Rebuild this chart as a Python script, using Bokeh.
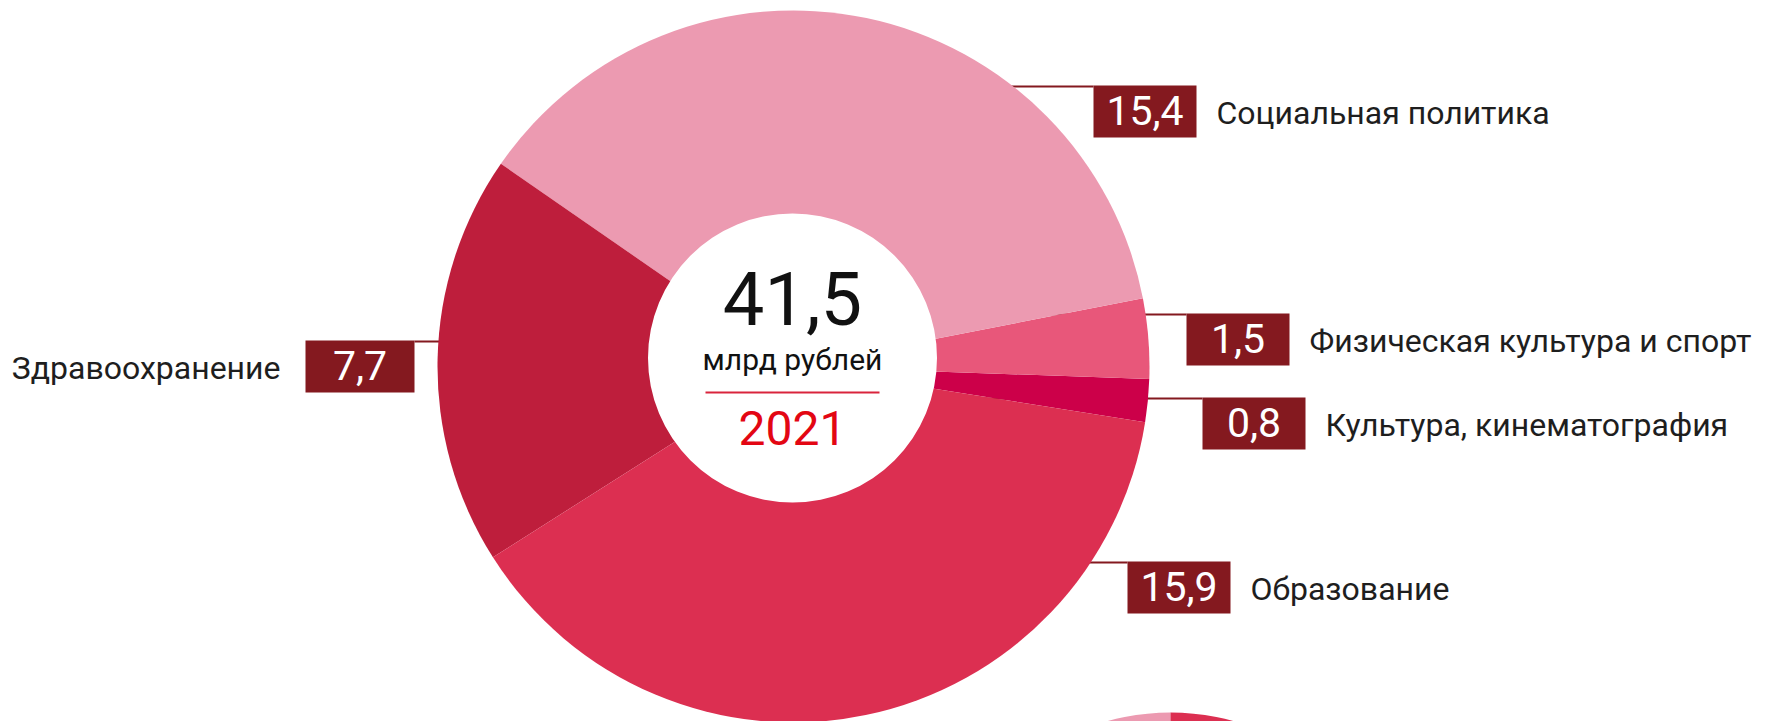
import math
from bokeh.plotting import figure
from bokeh.models import Range1d, ColumnDataSource
from bokeh.embed import file_html
from bokeh.resources import INLINE
from bokeh.core.properties import value

# ---------------- data (counter-clockwise order) ----------------
categories = ["Культура, кинематография", "Физическая культура и спорт",
              "Социальная политика", "Здравоохранение", "Образование"]
values = [0.8, 1.5, 15.4, 7.7, 15.9]
value_labels = ["0,8", "1,5", "15,4", "7,7", "15,9"]
colors = ["#CC0049", "#E8577A", "#EC9AB1", "#BE1E3C", "#DC2F51"]
total_label = "41,5"
unit_label = "млрд рублей"
year_label = "2021"

# ---------------- layout (pixel coordinates of the page) ----------------
PAGE_W, PAGE_H = 1771, 721
FONT = "Roboto"
START_DEG = -9.0
CX, CY, R = 793, 366, 356          # donut centre / radius
HX, HY, HR = 792, 357.5, 144.5     # white hole
# per label: box left, box width, box top, side of label text
box_left = [1202, 1186, 1093, 305, 1127]
box_width = [103, 103, 103, 109, 103]
box_top = [397, 313, 85, 340, 561]
label_side = ["right", "right", "right", "left", "right"]
BOX_H = 52
LINE_COLOR = "#84191F"
BOX_COLOR = "#84191F"


def Y(py):
    return PAGE_H - py


p = figure(width=PAGE_W, height=PAGE_H, x_range=Range1d(0, PAGE_W), y_range=Range1d(0, PAGE_H),
           output_backend="svg", toolbar_location=None, min_border=0)
p.axis.visible = False
p.grid.visible = False
p.outline_line_color = None
p.background_fill_color = "white"
p.border_fill_color = "white"

total = sum(values)
starts, ends = [], []
acc = math.radians(START_DEG)
for v in values:
    starts.append(acc)
    acc += v / total * 2 * math.pi
    ends.append(acc)

# leader lines (drawn first, below the donut)
lx0, lx1, ly = [], [], []
for i in range(len(values)):
    y_line = box_top[i] + 1
    if label_side[i] == "right":
        lx0.append(CX)
        lx1.append(box_left[i])
    else:
        lx0.append(box_left[i] + box_width[i])
        lx1.append(CX)
    ly.append(Y(y_line))
p.segment(x0=lx0, y0=ly, x1=lx1, y1=ly, line_color=LINE_COLOR, line_width=2)

src = ColumnDataSource(dict(start=starts, end=ends, color=colors, cat=categories))
p.wedge(x=CX, y=Y(CY), radius=R, start_angle="start", end_angle="end",
        fill_color="color", line_color=None, source=src)

# partially visible next donut at the bottom
p.wedge(x=1170, y=Y(947), radius=235, start_angle=math.pi / 2, end_angle=math.pi,
        fill_color="#EC9AB1", line_color=None)
p.wedge(x=1170, y=Y(947), radius=235, start_angle=0, end_angle=math.pi / 2,
        fill_color="#DC2F51", line_color=None)

# hole
p.circle(x=HX, y=Y(HY), radius=HR, fill_color="white", line_color=None)

# centre texts (text_baseline middle ~ centre of capitals)
p.text(x=[HX], y=[Y(297.5)], text=[total_label], text_font=value(FONT), text_font_size=value("74px"),
       text_align="center", text_baseline="middle", text_color="#111111")
p.text(x=[HX], y=[Y(359)], text=[unit_label], text_font=value(FONT), text_font_size=value("30px"),
       text_align="center", text_baseline="middle", text_color="#111111")
p.segment(x0=[705], y0=[Y(392)], x1=[879], y1=[Y(392)], line_color="#D9243C", line_width=2)
p.text(x=[HX], y=[Y(427)], text=[year_label], text_font=value(FONT), text_font_size=value("48px"),
       text_align="center", text_baseline="middle", text_color="#E30613")

# boxes with values
bl = box_left
br = [box_left[i] + box_width[i] for i in range(len(values))]
bt = [Y(t) for t in box_top]
bb = [Y(t + BOX_H) for t in box_top]
p.quad(left=bl, right=br, top=bt, bottom=bb, fill_color=BOX_COLOR, line_color=None)
p.text(x=[(bl[i] + br[i]) / 2 for i in range(len(values))],
       y=[Y(box_top[i] + 25) for i in range(len(values))],
       text=value_labels, text_font=value(FONT), text_font_size=value("41px"),
       text_align="center", text_baseline="middle", text_color="white")

# category labels
for i, cat in enumerate(categories):
    if label_side[i] == "right":
        x = br[i] + 20
        align = "left"
    else:
        x = bl[i] - 25
        align = "right"
    p.text(x=[x], y=[Y(box_top[i] + 27)], text=[cat], text_font=value(FONT),
           text_font_size=value("32px"), text_align=align, text_baseline="middle",
           text_color="#1E1E1E")

open("out.html", "w").write(file_html(p, INLINE))
